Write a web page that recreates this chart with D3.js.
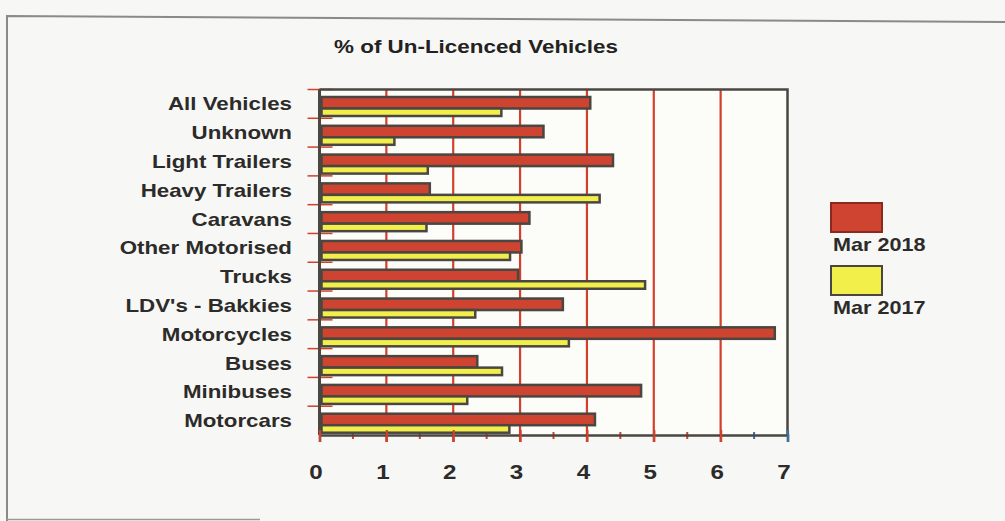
<!DOCTYPE html>
<html>
<head>
<meta charset="utf-8">
<script src="https://cdn.jsdelivr.net/npm/d3@7/dist/d3.min.js"></script>
<style>
  body { margin: 0; background: #f6f6f4; }
  svg { display: block; font-family: "Liberation Sans", Arial, sans-serif; font-weight: bold; }
</style>
</head>
<body>
<svg width="1005" height="521"></svg>
<script>
    // categories top to bottom
    const categories = ['All Vehicles', 'Unknown', 'Light Trailers', 'Heavy Trailers', 'Caravans',
        'Other Motorised', 'Trucks', "LDV's - Bakkies", 'Motorcycles', 'Buses', 'Minibuses', 'Motorcars'];
    const mar2018 = [4.05, 3.35, 4.39, 1.65, 3.14, 3.02, 2.97, 3.64, 6.81, 2.36, 4.81, 4.12];
    const mar2017 = [2.72, 1.12, 1.62, 4.19, 1.60, 2.85, 4.87, 2.33, 3.73, 2.73, 2.21, 2.84];
    const seriesNames = ['Mar 2018', 'Mar 2017'];
    const seriesColors = ['#cf4430', '#f2ef4a'];
    const xTicks = [0, 1, 2, 3, 4, 5, 6, 7];

    const svg = d3.select('svg');
    const ink = '#2c2b29';
    const frameInk = '#4a4742';

    // scanned page frame
    svg.append('rect').attr('width', 1005).attr('height', 521).attr('fill', '#f7f7f5');
    svg.append('path')
        .attr('d', 'M7,521 L7,16 L1005,22')
        .attr('fill', 'none').attr('stroke', '#8a8a88').attr('stroke-width', 2);
    svg.append('line')
        .attr('x1', 7).attr('x2', 260).attr('y1', 519.5).attr('y2', 519.5)
        .attr('stroke', '#9a9a98').attr('stroke-width', 1.5);

    const x = d3.scaleLinear().domain([0, 7]).range([319.5, 787.5]);
    const y = d3.scaleBand().domain(categories).range([89.5, 435]);

    const plot = svg.append('g');

    plot.append('rect')
        .attr('x', x(0)).attr('y', y.range()[0])
        .attr('width', x(7) - x(0)).attr('height', y.range()[1] - y.range()[0])
        .attr('fill', '#fcfcf9');

    // red gridlines at the integer ticks
    plot.selectAll('line.grid').data(xTicks.filter(d => d > 0 && d < 7))
        .enter().append('line')
        .attr('class', 'grid')
        .attr('x1', d => x(d)).attr('x2', d => x(d))
        .attr('y1', y.range()[0]).attr('y2', y.range()[1] + 7)
        .attr('stroke', '#d2402c').attr('stroke-width', 2.2);

    // minor ticks on the value axis
    const minor = d3.range(0, 7.01, 0.5).filter(d => d % 1 !== 0);
    plot.selectAll('line.minor').data(minor)
        .enter().append('line')
        .attr('x1', d => x(d)).attr('x2', d => x(d))
        .attr('y1', y.range()[1] - 3).attr('y2', y.range()[1] + 4)
        .attr('stroke', d => d > 6 ? '#3f6fa0' : '#d2402c').attr('stroke-width', 2);

    // red category tick marks across left axis
    plot.selectAll('line.ctick').data(categories)
        .enter().append('line')
        .attr('x1', x(0) - 12).attr('x2', x(0) + 13)
        .attr('y1', d => y(d)).attr('y2', d => y(d))
        .attr('stroke', '#d2402c').attr('stroke-width', 1.5);

    const rows = categories.map((c, i) => ({ c, v: [mar2018[i], mar2017[i]] }));

    const barGroups = plot.selectAll('g.row').data(rows)
        .enter().append('g')
        .attr('class', 'row')
        .attr('transform', d => `translate(0,${y(d.c)})`);

    barGroups.append('rect')
        .attr('x', x(0) + 2)
        .attr('y', 7.5)
        .attr('width', d => x(d.v[0]) - x(0) - 2)
        .attr('height', 11.5)
        .attr('fill', seriesColors[0])
        .attr('stroke', frameInk).attr('stroke-width', 2.5);

    barGroups.append('rect')
        .attr('x', x(0) + 2)
        .attr('y', 19)
        .attr('width', d => x(d.v[1]) - x(0) - 2)
        .attr('height', 7.5)
        .attr('fill', seriesColors[1])
        .attr('stroke', frameInk).attr('stroke-width', 2.5);

    // plot frame
    plot.append('path')
        .attr('d', `M${x(0)},${y.range()[0]} L${x(7)},${y.range()[0]} L${x(7)},${y.range()[1]}`)
        .attr('fill', 'none').attr('stroke', frameInk).attr('stroke-width', 2.5);
    plot.append('line')
        .attr('x1', x(0)).attr('x2', x(0))
        .attr('y1', y.range()[0]).attr('y2', y.range()[1])
        .attr('stroke', frameInk).attr('stroke-width', 3);

    // value axis
    const axis = plot.append('g')
        .attr('transform', `translate(0,${y.range()[1]})`)
        .call(d3.axisBottom(x).tickValues(xTicks).tickFormat(d3.format('d')).tickSize(7).tickPadding(22));
    axis.select('.domain').attr('stroke', frameInk).attr('stroke-width', 2.5);
    axis.selectAll('.tick line')
        .attr('y1', -5)
        .attr('stroke', d => d === 7 ? '#3f6fa0' : '#d2402c').attr('stroke-width', 2.2);
    axis.selectAll('.tick text')
        .attr('x', -3)
        .attr('fill', ink)
        .style('font-size', '21px').style('font-weight', 'bold')
        .attr('transform', 'scale(1.15,1)')
        .attr('x', -4 / 1.15);

    // category labels
    plot.selectAll('g.label').data(categories)
        .enter().append('g')
        .attr('class', 'label')
        .attr('transform', d => `translate(292,${y(d) + y.bandwidth() / 2})`)
        .append('text')
        .attr('transform', 'scale(1.24,1)')
        .attr('text-anchor', 'end')
        .attr('dy', '0.36em')
        .attr('fill', ink)
        .style('font-size', '18px')
        .text(d => d);

    // title
    svg.append('g')
        .attr('transform', 'translate(476,53)')
        .append('text')
        .attr('transform', 'scale(1.18,1)')
        .attr('text-anchor', 'middle')
        .attr('fill', '#222')
        .style('font-size', '19px')
        .text('% of Un-Licenced Vehicles');

    // legend
    const legend = svg.append('g').attr('transform', 'translate(831,203)');
    const items = legend.selectAll('g').data(seriesNames)
        .enter().append('g')
        .attr('transform', (d, i) => `translate(0,${i * 63})`);
    items.append('rect')
        .attr('width', 51).attr('height', 29)
        .attr('fill', (d, i) => seriesColors[i])
        .attr('stroke', (d, i) => i === 0 ? '#8a2a1e' : frameInk)
        .attr('stroke-width', 2);
    items.append('text')
        .attr('transform', 'translate(2,48) scale(1.2,1)')
        .attr('fill', ink)
        .style('font-size', '18px')
        .text(d => d);
</script>
</body>
</html>
